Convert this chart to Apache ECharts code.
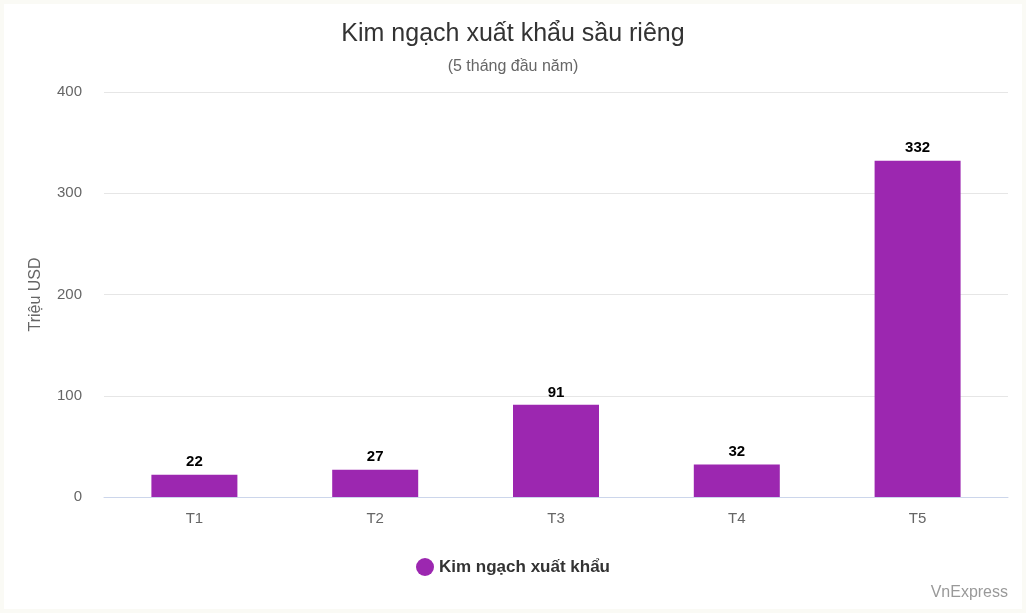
<!DOCTYPE html>
<html><head><meta charset="utf-8">
<script src="https://cdn.jsdelivr.net/npm/echarts@6/dist/echarts.min.js"></script>
<style>html,body{margin:0;padding:0;background:#fafaf5}#c{width:1018px;height:605px;margin:4px;background:#fff}</style>
</head><body><div id="c"></div>
<script>
const months = ['T1', 'T2', 'T3', 'T4', 'T5'];
const exportValue = [22, 27, 91, 32, 332];

const chart = echarts.init(document.getElementById('c'));
chart.setOption({
  textStyle: { fontFamily: 'Arial, Liberation Sans, sans-serif' },
  title: {
    text: 'Kim ngạch xuất khẩu sầu riêng',
    subtext: '(5 tháng đầu năm)',
    left: 'center', top: 13, itemGap: 12,
    textStyle: { fontSize: 25, fontWeight: 'normal', color: '#333' },
    subtextStyle: { fontSize: 16, color: '#666' }
  },
  graphic: [{
    type: 'text', right: 14, bottom: 8,
    style: { text: 'VnExpress', fontSize: 16, fill: '#999', fontFamily: 'Arial, Liberation Sans, sans-serif' }
  }],
  legend: {
    bottom: 28, icon: 'circle', itemWidth: 18, itemHeight: 18,
    textStyle: { fontSize: 17, fontWeight: 'bold', color: '#333' }
  },
  grid: { left: 100, right: 14, top: 88, bottom: 112 },
  xAxis: {
    type: 'category', data: months,
    axisLine: { lineStyle: { color: '#ccd6eb' } },
    axisTick: { show: false },
    axisLabel: { fontSize: 15, color: '#666', margin: 14 }
  },
  yAxis: {
    type: 'value', min: 0, max: 400, interval: 100,
    name: 'Triệu USD', nameLocation: 'middle', nameGap: 60,
    nameTextStyle: { fontSize: 16, color: '#666' },
    axisLabel: { fontSize: 15, color: '#666', margin: 22 },
    splitLine: { lineStyle: { color: '#e6e6e6' } }
  },
  series: [{
    name: 'Kim ngạch xuất khẩu', type: 'bar', data: exportValue,
    barWidth: 86, itemStyle: { color: '#9c27b0' },
    label: { show: true, position: 'top', fontSize: 15, fontWeight: 'bold', color: '#000' }
  }]
});
</script></body></html>
